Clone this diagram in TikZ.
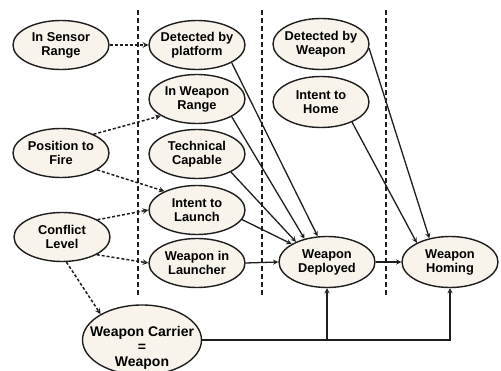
\documentclass[tikz,border=0pt]{standalone}
\usepackage{fontspec}
\setmainfont{Liberation Sans}
\usetikzlibrary{shapes.geometric}
\definecolor{cream}{RGB}{248,243,235}
\definecolor{ink}{RGB}{30,30,30}

\begin{document}
\begin{tikzpicture} [x=1pt,y=-1pt,
	every node/.style={ellipse,draw=ink,line width=1.4pt,fill=cream,align=center,inner sep=-6pt,
		minimum width=96pt,minimum height=49pt,font=\fontsize{12.8}{14}\selectfont\bfseries},
	link/.style={-stealth,ink,line width=1.3pt},
	cond/.style={-stealth,ink,line width=1.5pt,dash pattern=on 3pt off 2pt},
	lane/.style={ink,line width=1.4pt,dash pattern=on 5pt off 3pt}]
	\useasboundingbox (0,0) rectangle (501,371);
	\foreach \x in {138,262,386}
		\draw [lane] (\x,10) -- (\x,297);
	\node (isr) at ( 61, 45) {In Sensor\\Range};
	\node (dp)  at (197, 45) {Detected by\\platform};
	\node (iwr) at (197, 99) {In Weapon\\Range};
	\node (pf)  at ( 61,153) {Position to\\Fire};
	\node (tc)  at (197,154) {Technical\\Capable};
	\node (il)  at (197,210) {Intent to\\Launch};
	\node (cl)  at ( 62,237) {Conflict\\Level};
	\node (wl)  at (197,263) {Weapon in\\Launcher};
	\node [minimum width=119pt,minimum height=70pt,inner sep=-12pt,font=\fontsize{14}{15}\selectfont\bfseries]
		(wc) at (142,340) {\rule{0pt}{25pt}Weapon Carrier\\=\\Weapon};
	\node [minimum height=51pt] (dw) at (321, 44) {Detected by\\Weapon};
	\node [minimum height=51pt] (ih) at (321,102) {Intent to\\Home};
	\node [minimum height=51pt] (wd) at (327,262) {Weapon\\Deployed};
	\node [minimum height=51pt] (wh) at (450,262) {Weapon\\Homing};
	\foreach \from/\a/\to/\b in {isr/0/dp/180,pf/30/iwr/205,pf/-25/il/150,cl/26/il/180,cl/-27/wl/180,cl/-80/wc/148}
		\draw [cond] (\from.\a) -- (\to.\b);
	\foreach \from/\a/\to/\b in {dp/-27/wd/110,iwr/-27/wd/134,tc/-28/wd/147,il/-12/wd/153,wl/0/wd/180,wd/0/wh/180,dw/-5/wh/131,ih/-33/wh/150}
		\draw [link] (\from.\a) -- (\to.\b);
	\draw [link] (wc.east) -| (wh.south);
	\draw [link] (wd.south |- wc.east) -- (wd.south);
\end{tikzpicture}
\end{document}
